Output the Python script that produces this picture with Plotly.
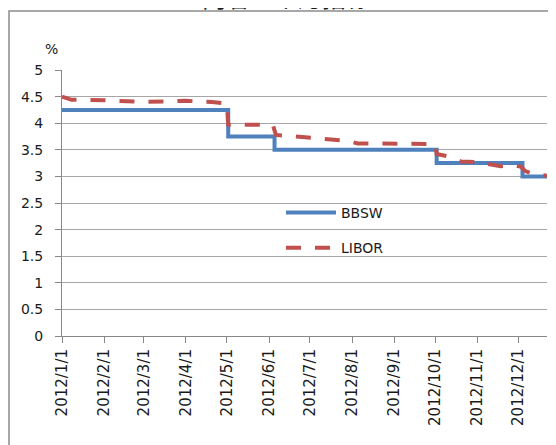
import plotly.graph_objects as go

# ---- data ----
title_text = "两者 3 个月指标"
bbsw_dates = ["2012-01-01", "2012-05-02", "2012-06-05", "2012-10-02", "2012-12-04", "2012-12-22"]
bbsw_vals = [4.25, 3.75, 3.50, 3.25, 3.00, 3.00]

libor_dates = ["2012-01-01", "2012-01-08", "2012-02-01", "2012-03-01", "2012-04-01", "2012-04-20",
               "2012-04-30", "2012-05-01", "2012-05-02", "2012-05-31", "2012-06-04", "2012-06-06",
               "2012-06-20", "2012-07-05", "2012-07-20", "2012-07-28", "2012-08-05", "2012-09-15",
               "2012-10-01", "2012-10-02", "2012-10-10", "2012-10-20", "2012-11-01", "2012-11-12",
               "2012-11-18", "2012-11-28", "2012-12-03", "2012-12-06", "2012-12-12", "2012-12-22"]
libor_vals = [4.50, 4.44, 4.43, 4.40, 4.42, 4.40,
              4.37, 4.36, 3.97, 3.97, 3.95, 3.78,
              3.75, 3.72, 3.70, 3.67, 3.62, 3.61,
              3.61, 3.42, 3.38, 3.28, 3.27, 3.22,
              3.19, 3.21, 3.18, 3.10, 3.05, 3.01]

tick_dates = ["2012-%02d-01" % m for m in range(1, 13)]
tick_labels = ["2012/%d/1" % m for m in range(1, 13)]
y_ticks = [0, 0.5, 1, 1.5, 2, 2.5, 3, 3.5, 4, 4.5, 5]
y_labels = ["0", "0.5", "1", "1.5", "2", "2.5", "3", "3.5", "4", "4.5", "5"]

BLUE = "#4F81BD"
RED = "#C0504D"
GRID = "#A6A6A6"
FONT = "DejaVu Sans"
TXT = "#1a1a1a"

# plot area geometry (figure pixels; page adds an 8px body margin)
L, T, PW, PH = 54, 62, 485, 266


def px(xf):
    return (xf - L) / PW


def py(yf):
    return 1 - (yf - T) / PH


fig = go.Figure()
fig.add_trace(go.Scatter(x=bbsw_dates, y=bbsw_vals, name="BBSW", mode="lines",
                         line=dict(color=BLUE, width=4, shape="hv"), legendgroup="a"))
fig.add_trace(go.Scatter(x=libor_dates, y=libor_vals, name="LIBOR", mode="lines",
                         line=dict(color=RED, width=4, dash="15px,14px"), legendgroup="b"))

fig.update_layout(
    width=556, height=445,
    margin=dict(l=L, r=556 - L - PW, t=T, b=445 - T - PH, autoexpand=False),
    paper_bgcolor="white", plot_bgcolor="white",
    font=dict(family=FONT, size=14, color=TXT),
    showlegend=True,
    legend=dict(x=px(273), y=py(189), xanchor="left", yanchor="top",
                bgcolor="rgba(0,0,0,0)", font=dict(size=14, family=FONT, color=TXT),
                traceorder="grouped", tracegroupgap=14, itemwidth=50),
    xaxis=dict(type="date", range=["2012-01-01", "2012-12-22"],
               tickvals=tick_dates, ticktext=tick_labels, tickangle=-90,
               tickfont=dict(size=15, family=FONT, color=TXT),
               showgrid=False, showline=True, linecolor="#888888", linewidth=1,
               ticks="outside", ticklen=6, tickcolor="#888888", zeroline=False,
               automargin=False),
    yaxis=dict(range=[0, 5], tickvals=y_ticks, ticktext=y_labels,
               tickfont=dict(size=14, family=FONT, color=TXT),
               showgrid=True, gridcolor=GRID, gridwidth=1,
               showline=True, linecolor="#888888", linewidth=1,
               ticks="outside", ticklen=6, tickcolor="#888888",
               ticklabelstandoff=9, zeroline=False, automargin=False),
)

# outer chart border (partially cropped, as in the reference)
fig.add_shape(type="rect", xref="paper", yref="paper",
              x0=px(1), x1=px(600), y0=py(600), y1=py(3),
              line=dict(color="#8C8C8C", width=1.5), fillcolor="rgba(0,0,0,0)", layer="below")

fig.add_annotation(text="%", xref="paper", yref="paper",
                   x=px(43), y=py(41),
                   xanchor="center", yanchor="middle", showarrow=False,
                   font=dict(size=14, family=FONT, color=TXT))

fig.add_annotation(text=title_text, xref="paper", yref="paper",
                   x=px(278), y=py(-11),
                   xanchor="center", yanchor="middle", showarrow=False,
                   font=dict(size=24, family="Noto Sans CJK SC", color=TXT))

fig.write_html("out.html")
